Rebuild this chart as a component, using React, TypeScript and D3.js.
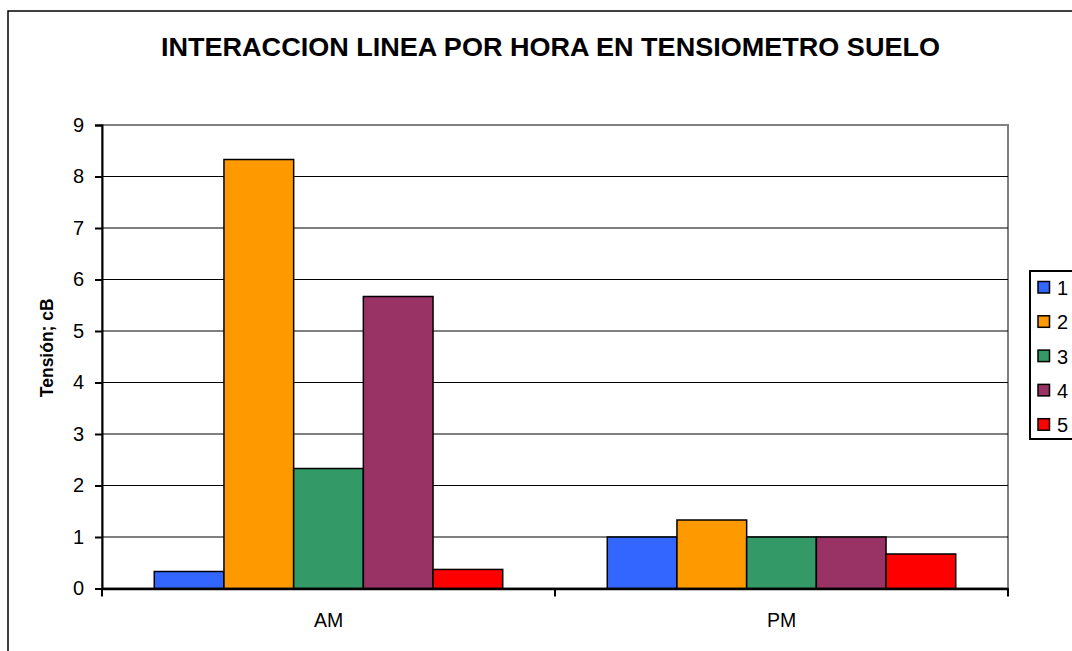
import React, { useEffect, useRef } from 'react';
import * as d3 from 'd3';

// values
const categories = ['AM', 'PM'];
const seriesNames = ['1', '2', '3', '4', '5'];
const amValues = [0.33, 8.33, 2.33, 5.67, 0.37];
const pmValues = [1.0, 1.33, 1.0, 1.0, 0.67];
const seriesColors = ['#3366FF', '#FF9900', '#339966', '#993366', '#FF0000'];
const yTicks = [0, 1, 2, 3, 4, 5, 6, 7, 8, 9];

const title = 'INTERACCION LINEA POR HORA EN TENSIOMETRO SUELO';
const yTitle = 'Tensión; cB';

const App: React.FC = () => {
  const svgRef = useRef<SVGSVGElement>(null);

  useEffect(() => {
    const svg = d3.select(svgRef.current);
    svg.selectAll('*').remove();

    const font = 'Arial, "Liberation Sans", sans-serif';
    const plot = { left: 102, right: 1008, top: 125, bottom: 588.5 };

    const rows = categories.map((c, i) => ({
      cat: c,
      values: i === 0 ? amValues : pmValues,
    }));

    const x0 = d3.scaleBand<string>().domain(categories).range([plot.left, plot.right]);
    const x1 = d3
      .scaleBand<string>()
      .domain(seriesNames)
      .range([0, x0.bandwidth()])
      .paddingOuter(0.75)
      .paddingInner(0);
    const y = d3.scaleLinear().domain([0, 9]).range([plot.bottom, plot.top]);

    // outer frame (cut off at right/bottom like the reference)
    svg
      .append('rect')
      .attr('x', 8)
      .attr('y', 11)
      .attr('width', 1200)
      .attr('height', 800)
      .attr('fill', 'white')
      .attr('stroke', '#000')
      .attr('stroke-width', 1.5);

    // title
    svg
      .append('text')
      .attr('x', 161)
      .attr('y', 56)
      .attr('font-family', font)
      .attr('font-weight', 'bold')
      .attr('font-size', 25)
      .attr('textLength', 779)
      .attr('lengthAdjust', 'spacingAndGlyphs')
      .text(title);

    // plot area border
    svg
      .append('rect')
      .attr('x', plot.left)
      .attr('y', plot.top)
      .attr('width', plot.right - plot.left)
      .attr('height', plot.bottom - plot.top)
      .attr('fill', 'white')
      .attr('stroke', '#808080')
      .attr('stroke-width', 2);

    // gridlines
    svg
      .append('g')
      .selectAll('line')
      .data(yTicks.filter((t) => t > 0 && t < 9))
      .join('line')
      .attr('x1', plot.left)
      .attr('x2', plot.right)
      .attr('y1', (d) => y(d))
      .attr('y2', (d) => y(d))
      .attr('stroke', '#000')
      .attr('stroke-width', 1);

    // bars
    svg
      .append('g')
      .selectAll('g')
      .data(rows)
      .join('g')
      .attr('transform', (d) => `translate(${x0(d.cat)},0)`)
      .selectAll('rect')
      .data((d) => d.values.map((v, i) => ({ name: seriesNames[i], v, i })))
      .join('rect')
      .attr('x', (d) => x1(d.name) as number)
      .attr('width', x1.bandwidth())
      .attr('y', (d) => y(d.v))
      .attr('height', (d) => y(0) - y(d.v))
      .attr('fill', (d) => seriesColors[d.i])
      .attr('stroke', '#000')
      .attr('stroke-width', 1.5);

    // y axis
    const yAxis = svg
      .append('g')
      .attr('transform', `translate(${plot.left},0)`)
      .call(d3.axisLeft(y).tickValues(yTicks).tickSize(7).tickPadding(11).tickFormat(d3.format('d')));
    yAxis.select('.domain').attr('stroke', '#000').attr('stroke-width', 2);
    yAxis.selectAll('.tick line').attr('stroke', '#000').attr('stroke-width', 2);
    yAxis.selectAll('.tick text').attr('font-family', font).attr('font-size', 20).attr('fill', '#000');

    // x axis
    const xAxis = svg
      .append('g')
      .attr('transform', `translate(0,${plot.bottom})`)
      .call(d3.axisBottom(x0).tickSize(0).tickPadding(25));
    xAxis.select('.domain').attr('stroke', '#000').attr('stroke-width', 2.5);
    xAxis.selectAll('.tick text').attr('font-family', font).attr('font-size', 19.5).attr('fill', '#000');
    // category boundary ticks
    xAxis
      .selectAll('line.sep')
      .data([plot.left, plot.left + x0.bandwidth(), plot.right])
      .join('line')
      .attr('class', 'sep')
      .attr('x1', (d) => d)
      .attr('x2', (d) => d)
      .attr('y1', 0)
      .attr('y2', 8)
      .attr('stroke', '#000')
      .attr('stroke-width', 2);

    // y axis title
    svg
      .append('text')
      .attr('transform', `translate(53,${(plot.top + plot.bottom) / 2 - 9}) rotate(-90)`)
      .attr('text-anchor', 'middle')
      .attr('font-family', font)
      .attr('font-weight', 'bold')
      .attr('font-size', 17.5)
      .text(yTitle);

    // legend
    const legend = svg.append('g').attr('transform', 'translate(1030,271)');
    legend
      .append('rect')
      .attr('width', 80)
      .attr('height', 168)
      .attr('fill', 'white')
      .attr('stroke', '#000')
      .attr('stroke-width', 2);
    const items = legend
      .selectAll('g.item')
      .data(seriesNames)
      .join('g')
      .attr('class', 'item')
      .attr('transform', (d, i) => `translate(0,${10.5 + i * 34.3})`);
    items
      .append('rect')
      .attr('x', 8)
      .attr('y', 0)
      .attr('width', 11.5)
      .attr('height', 11.5)
      .attr('fill', (d, i) => seriesColors[i])
      .attr('stroke', '#000')
      .attr('stroke-width', 1.5);
    items
      .append('text')
      .attr('x', 27)
      .attr('y', 13.5)
      .attr('font-family', font)
      .attr('font-size', 20)
      .text((d) => d);
  }, []);

  return (
    <svg
      ref={svgRef}
      width={1072}
      height={651}
      style={{ position: 'absolute', left: 0, top: 0, background: 'white' }}
    />
  );
};

export default App;
